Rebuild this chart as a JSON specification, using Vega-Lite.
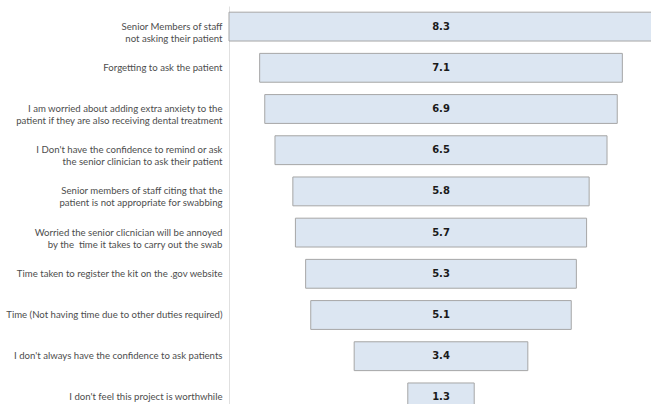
{
  "$schema": "https://vega.github.io/schema/vega-lite/v6.json",
  "width": 424,
  "height": 412,
  "autosize": {"type": "none"},
  "padding": {"left": 229, "top": 6, "right": 0, "bottom": 0},
  "background": "white",
  "config": {"view": {"stroke": null}},
  "data": {
    "values": [
      {"reason": "Senior Members of staff|not asking their patient", "score": 8.3},
      {"reason": "Forgetting to ask the patient", "score": 7.1},
      {"reason": "I am worried about adding extra anxiety to the|patient if they are also receiving dental treatment", "score": 6.9},
      {"reason": "I Don't have the confidence to remind or ask|the senior clinician to ask their patient", "score": 6.5},
      {"reason": "Senior members of staff citing that the|patient is not appropriate for swabbing", "score": 5.8},
      {"reason": "Worried the senior clicnician will be annoyed|by the \u00a0time it takes to carry out the swab", "score": 5.7},
      {"reason": "Time taken to register the kit on the .gov website", "score": 5.3},
      {"reason": "Time (Not having time due to other duties required)", "score": 5.1},
      {"reason": "I don't always have the confidence to ask patients", "score": 3.4},
      {"reason": "I don't feel this project is worthwhile", "score": 1.3}
    ]
  },
  "encoding": {
    "y": {
      "field": "reason",
      "type": "nominal",
      "sort": null,
      "scale": {"paddingInner": 0.3, "paddingOuter": 0.15},
      "axis": {
        "title": null,
        "ticks": false,
        "labelExpr": "split(datum.label, '|')",
        "labelFont": "Lato",
        "labelFontSize": 9.6,
        "labelColor": "#4d4d4d",
        "labelLineHeight": 12,
        "labelPadding": 7,
        "labelLimit": 300,
        "domainColor": "#e0e0e0",
        "domainWidth": 1
      }
    }
  },
  "layer": [
    {
      "mark": {"type": "bar", "fill": "#dce6f2", "stroke": "#a6a6a6", "strokeWidth": 1},
      "encoding": {
        "x": {
          "field": "score",
          "type": "quantitative",
          "stack": "center",
          "scale": {"domain": [0, 8.3], "nice": false, "zero": false},
          "axis": null
        }
      }
    },
    {
      "mark": {"type": "text", "font": "DejaVu Sans", "fontWeight": "bold", "fontSize": 10, "color": "#1a1a1a", "align": "center", "baseline": "middle"},
      "encoding": {
        "x": {"datum": 4.15, "type": "quantitative"},
        "text": {"field": "score", "type": "quantitative", "format": ".1f"}
      }
    }
  ]
}
